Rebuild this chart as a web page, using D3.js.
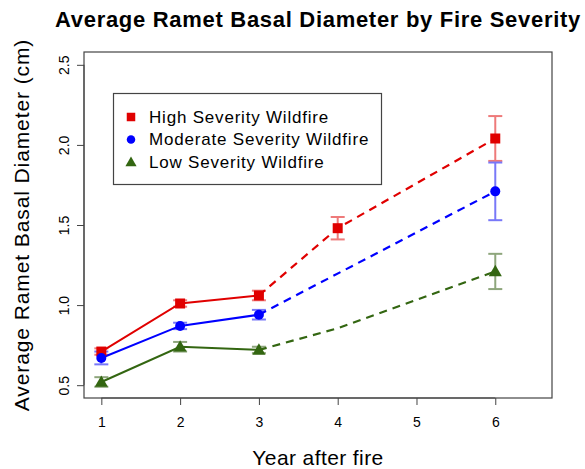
<!DOCTYPE html>
<html><head><meta charset="utf-8">
<script src="https://cdn.jsdelivr.net/npm/d3@7"></script>
<style>body{margin:0;background:#fff}svg{display:block}text{font-family:"Liberation Sans",Arial,sans-serif}</style>
</head><body><div id="chart"></div>
<script>
const years = [1, 2, 3, 4, 6];
const highMean = [0.71, 1.01, 1.06, 1.48, 2.04];
const highSE   = [0.02, 0.02, 0.03, 0.07, 0.14];
const modYears = [1, 2, 3, 6];
const modMean  = [0.67, 0.87, 0.94, 1.71];
const modSE    = [0.04, 0.02, 0.03, 0.18];
const lowYears = [1, 2, 3, 6];
const lowMean  = [0.52, 0.74, 0.72, 1.21];
const lowSE    = [0.03, 0.03, 0.02, 0.11];
// dashed path of low severity (bends near year 4, no marker there)
const lowDashYears = [3, 4, 6];
const lowDashVals  = [0.72, 0.855, 1.21];
const xTicks = [1, 2, 3, 4, 5, 6];
const yTicks = [0.5, 1.0, 1.5, 2.0, 2.5];
const legendLabels = ["High Severity Wildfire", "Moderate Severity Wildfire", "Low Severity Wildfire"];

const W = 585, H = 469;
const svg = d3.select("#chart").append("svg").attr("width", W).attr("height", H);
const x = d3.scaleLinear().domain([0.78, 6.72]).range([84, 552]);
const y = d3.scaleLinear().domain([0.42, 2.58]).range([398, 52]);

const series = [
  {name: legendLabels[0], xs: years, m: highMean, se: highSE, col: "#e00000", ecol: "#ee7a7a", shape: "square", solidN: 3, dash: null},
  {name: legendLabels[1], xs: modYears, m: modMean, se: modSE, col: "#0000ff", ecol: "#7878f8", shape: "circle", solidN: 3, dash: null},
  {name: legendLabels[2], xs: lowYears, m: lowMean, se: lowSE, col: "#336611", ecol: "#8ea67c", shape: "triangle", solidN: 3, dash: {xs: lowDashYears, v: lowDashVals}}
];

const line = d3.line().x(d => x(d[0])).y(d => y(d[1]));

series.forEach(s => {
  const g = svg.append("g");
  s.xs.forEach((yr, i) => {
    const cx = x(yr), t = y(s.m[i] + s.se[i]), b = y(s.m[i] - s.se[i]);
    g.append("line").attr("x1", cx).attr("x2", cx).attr("y1", t).attr("y2", b).attr("stroke", s.ecol).attr("stroke-width", 2);
    [t, b].forEach(yy => g.append("line").attr("x1", cx - 7).attr("x2", cx + 7).attr("y1", yy).attr("y2", yy).attr("stroke", s.ecol).attr("stroke-width", 2));
  });
});

series.forEach(s => {
  const pts = s.xs.map((v, i) => [v, s.m[i]]);
  svg.append("path").attr("d", line(pts.slice(0, s.solidN))).attr("fill", "none").attr("stroke", s.col).attr("stroke-width", 2);
  const dpts = s.dash ? s.dash.xs.map((v, i) => [v, s.dash.v[i]]) : pts.slice(s.solidN - 1);
  svg.append("path").attr("d", line(dpts)).attr("fill", "none").attr("stroke", s.col).attr("stroke-width", 2.2).attr("stroke-dasharray", "8,6");
});

function marker(g, shape, cx, cy, col, k) {
  k = k || 1;
  if (shape === "square") g.append("rect").attr("x", cx - 5 * k).attr("y", cy - 5 * k).attr("width", 10 * k).attr("height", 10 * k).attr("fill", col);
  else if (shape === "circle") g.append("circle").attr("cx", cx).attr("cy", cy).attr("r", 5 * k).attr("fill", col);
  else g.append("path").attr("d", d3.symbol(d3.symbolTriangle, 75 * k * k)()).attr("transform", `translate(${cx},${cy + 1})`).attr("fill", col);
}
series.forEach(s => {
  const g = svg.append("g");
  s.xs.forEach((yr, i) => marker(g, s.shape, x(yr), y(s.m[i]), s.col));
});

svg.append("rect").attr("x", 84).attr("y", 52).attr("width", 468).attr("height", 346).attr("fill", "none").attr("stroke", "#444").attr("stroke-width", 1.2);

const xa = svg.append("g").attr("transform", "translate(0,398)").call(d3.axisBottom(x).tickValues(xTicks).tickFormat(d3.format("d")).tickSize(7).tickPadding(12));
xa.select(".domain").attr("d", `M${x(1)},0H${x(6)}`).attr("stroke", "#444");
const ya = svg.append("g").attr("transform", "translate(84,0)").call(d3.axisLeft(y).tickValues(yTicks).tickFormat(d3.format(".1f")).tickSize(7).tickPadding(14));
ya.select(".domain").attr("d", `M0,${y(0.5)}V${y(2.5)}`).attr("stroke", "#444");
[xa, ya].forEach(a => { a.selectAll("line").attr("stroke", "#444"); a.selectAll("text").attr("font-size", 14).attr("fill", "#000").style("font-family", "Liberation Sans, Arial, sans-serif"); });
ya.selectAll(".tick text").attr("text-anchor", "middle")
  .attr("transform", `translate(-20,0) rotate(-90)`).attr("dy", "0.35em").attr("x", 0);

svg.append("text").attr("x", 318).attr("y", 27).attr("text-anchor", "middle").attr("font-size", 22).attr("letter-spacing", 0.7).attr("font-weight", "bold").text("Average Ramet Basal Diameter by Fire Severity");
svg.append("text").attr("x", 318).attr("y", 465).attr("text-anchor", "middle").attr("font-size", 21).attr("letter-spacing", 0.4).text("Year after fire");
svg.append("text").attr("transform", "translate(29,225) rotate(-90)").attr("text-anchor", "middle").attr("font-size", 21).attr("letter-spacing", 0.9).text("Average Ramet Basal Diameter (cm)");

const lg = svg.append("g");
lg.append("rect").attr("x", 113.5).attr("y", 93.5).attr("width", 268).attr("height", 91).attr("fill", "#fff").attr("stroke", "#444").attr("stroke-width", 1.2);
series.forEach((s, i) => {
  const ly = 117 + i * 22.5;
  marker(lg, s.shape, 131, ly, s.col, 0.85);
  lg.append("text").attr("x", 149).attr("y", ly).attr("dy", "0.35em").attr("font-size", 17).attr("letter-spacing", 0.8).text(s.name);
});
</script></body></html>
